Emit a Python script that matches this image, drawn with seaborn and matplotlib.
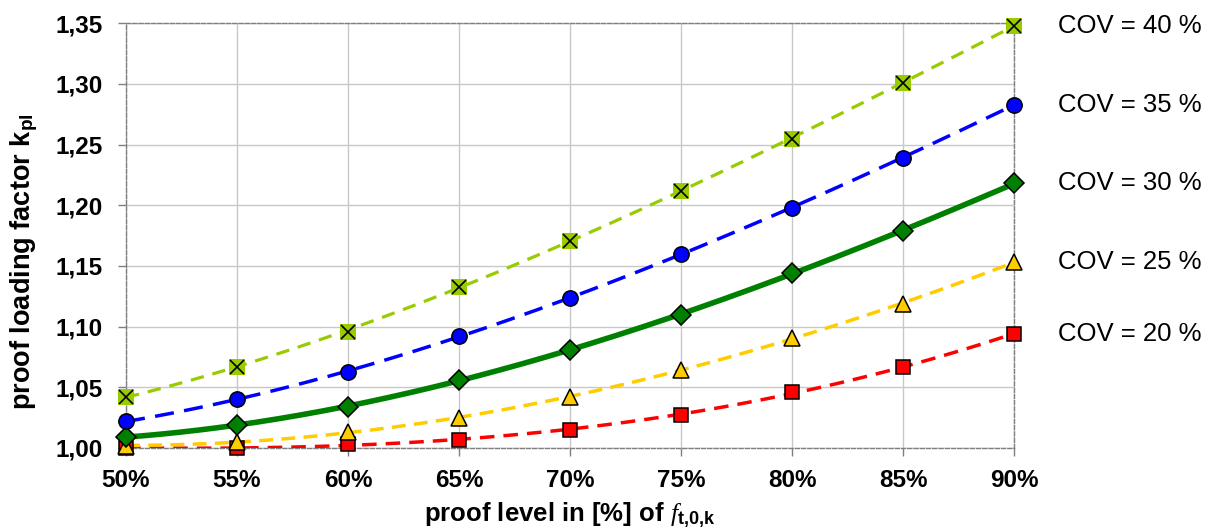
import numpy as np
import pandas as pd
import matplotlib
matplotlib.use("Agg")
import matplotlib.pyplot as plt
import matplotlib.transforms as mtransforms
from matplotlib.ticker import FuncFormatter, MultipleLocator
import seaborn as sns

# proof level in % of f_t,0,k
proof_level = [50, 55, 60, 65, 70, 75, 80, 85, 90]

# proof loading factor k_pl
cov20 = [1.000, 1.000, 1.003, 1.007, 1.015, 1.027, 1.046, 1.067, 1.094]
cov25 = [1.002, 1.005, 1.013, 1.025, 1.042, 1.064, 1.091, 1.119, 1.153]
cov30 = [1.009, 1.019, 1.034, 1.056, 1.081, 1.110, 1.144, 1.179, 1.218]
cov35 = [1.022, 1.040, 1.063, 1.092, 1.124, 1.160, 1.198, 1.239, 1.283]
cov40 = [1.042, 1.067, 1.096, 1.133, 1.171, 1.212, 1.255, 1.301, 1.348]

series_names = ["COV = 20 %", "COV = 25 %", "COV = 30 %", "COV = 35 %", "COV = 40 %"]
series_vals = [cov20, cov25, cov30, cov35, cov40]

sns.set_theme(style="white")
plt.rcParams["font.family"] = ["Liberation Sans", "DejaVu Sans"]
plt.rcParams["text.color"] = "black"
plt.rcParams["axes.labelcolor"] = "black"
plt.rcParams["xtick.color"] = "black"
plt.rcParams["ytick.color"] = "black"
plt.rcParams["mathtext.fontset"] = "custom"
plt.rcParams["mathtext.rm"] = "Liberation Sans"
plt.rcParams["mathtext.bf"] = "Liberation Sans:bold"
plt.rcParams["mathtext.it"] = "Liberation Serif:italic"

# style per series: line colour, dash, width, marker, face colour
styles = {
    "COV = 20 %": dict(color="#FF0000", ls=(0, (4.2, 2.6)), lw=2.5, marker="s", face="#FF0000", ms=10.5),
    "COV = 25 %": dict(color="#FFCC00", ls=(0, (4.0, 2.4)), lw=2.5, marker="^", face="#FFCC00", ms=11),
    "COV = 30 %": dict(color="#008000", ls="-", lw=4.0, marker="D", face="#008000", ms=10),
    "COV = 35 %": dict(color="#0000FF", ls=(0, (5.5, 3.0)), lw=2.5, marker="o", face="#0000FF", ms=11),
    "COV = 40 %": dict(color="#99CC00", ls=(0, (4.2, 2.8)), lw=2.3, marker="s", face="#99CC00", ms=11),
}

fig = plt.figure(figsize=(12.22, 5.32), dpi=100)
ax = fig.add_axes([126 / 1222, 1 - 448 / 532, 888 / 1222, (448 - 23.3) / 532])

x_fine = np.linspace(50, 90, 200)
for name, vals in zip(series_names, series_vals):
    st = styles[name]
    # trend line like the spreadsheet polynomial trendline
    coef = np.polyfit(proof_level, vals, 3)
    fit = pd.DataFrame({"x": x_fine, "y": np.polyval(coef, x_fine)})
    sns.lineplot(data=fit, x="x", y="y", ax=ax, color=st["color"],
                 linestyle=st["ls"], linewidth=st["lw"], zorder=3)
    pts = pd.DataFrame({"x": proof_level, "y": vals})
    edge = "none" if name == "COV = 40 %" else "black"
    ax.plot(pts["x"], pts["y"], linestyle="none", marker=st["marker"],
            markersize=st["ms"], markerfacecolor=st["face"],
            markeredgecolor=edge, markeredgewidth=1.1, zorder=4, clip_on=False)
    if name == "COV = 40 %":
        ax.plot(pts["x"], pts["y"], linestyle="none", marker="x",
                markersize=10.5, markeredgecolor="black", markeredgewidth=1.2,
                zorder=5, clip_on=False)

ax.set_xlim(50, 90)
ax.set_ylim(1.00, 1.35)
ax.xaxis.set_major_locator(MultipleLocator(5))
ax.yaxis.set_major_locator(MultipleLocator(0.05))
ax.xaxis.set_major_formatter(FuncFormatter(lambda v, p: f"{v:.0f}%"))
ax.yaxis.set_major_formatter(FuncFormatter(lambda v, p: f"{v:.2f}".replace(".", ",")))

ax.grid(True, color="#C8C8C8", linewidth=1.0)
ax.set_axisbelow(True)
for sp in ax.spines.values():
    sp.set_visible(True)
    sp.set_color("#7F7F7F")
    sp.set_linewidth(1.0)
    sp.set_linestyle((0, (3, 1.5)))

ax.tick_params(axis="both", which="major", direction="out", length=6,
               width=1, color="#7F7F7F", labelsize=17.5, labelcolor="black",
               bottom=True, left=True)
ax.tick_params(axis="y", pad=11)
ax.tick_params(axis="x", pad=9)
for lab in ax.get_xticklabels() + ax.get_yticklabels():
    lab.set_fontweight("bold")

ax.set_xlabel(r"proof level in [%] of $\mathit{f}_{\mathbf{t{,}0{,}k}}$",
              fontsize=18.5, fontweight="bold", labelpad=6, color="black")
ax.set_ylabel("")
fig.text(24 / 1222, 1 - 262 / 532, r"proof loading factor k$_{\mathbf{pl}}$",
         rotation=90, ha="center", va="center", fontsize=19.5,
         fontweight="bold", color="black")

# series labels to the right of the plot
trans = mtransforms.blended_transform_factory(ax.transAxes, ax.transData)
for name, vals in zip(series_names, series_vals):
    ax.text(1.050, vals[-1], name, transform=trans, ha="left", va="center",
            fontsize=18.5, color="black", clip_on=False)

fig.savefig("out.png", dpi=100)
